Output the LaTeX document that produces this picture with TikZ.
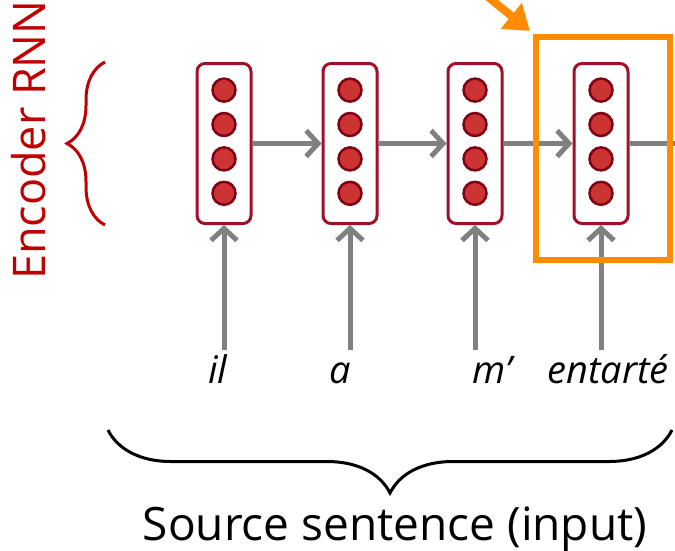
\documentclass[tikz,border=0pt]{standalone}
\usepackage{fontspec}
\setmainfont{Open Sans}
\usetikzlibrary{arrows.meta,decorations.pathreplacing}
\definecolor{cellred}{RGB}{160,16,40}
\definecolor{dotred}{RGB}{204,51,51}
\definecolor{dotrim}{RGB}{128,0,20}
\definecolor{linkgray}{RGB}{128,128,128}
\definecolor{focusorange}{RGB}{255,140,0}
\definecolor{labelred}{RGB}{192,0,0}
\tikzset{
  cell/.style={draw=cellred, line width=3pt, rounded corners=8pt, minimum width=54pt, minimum height=160pt, inner sep=0pt,
    path picture={
      \filldraw[shift={(path picture bounding box.center)}, fill=dotred, draw=dotrim, line width=2.5pt] (0,53.4) circle[radius=11.5pt];
      \filldraw[shift={(path picture bounding box.center)}, fill=dotred, draw=dotrim, line width=2.5pt] (0,19) circle[radius=11.5pt];
      \filldraw[shift={(path picture bounding box.center)}, fill=dotred, draw=dotrim, line width=2.5pt] (0,-15.4) circle[radius=11.5pt];
      \filldraw[shift={(path picture bounding box.center)}, fill=dotred, draw=dotrim, line width=2.5pt] (0,-49.8) circle[radius=11.5pt];
    }},
  link/.style={draw=linkgray, line width=5pt, -{Straight Barb[length=12pt,width=26pt]}},
  word/.style={anchor=base, font=\fontsize{38pt}{42pt}\selectfont\itshape},
}
\begin{document}
\begin{tikzpicture}[x=1pt,y=1pt]
\useasboundingbox (0,0) rectangle (675,-550);
\node[cell] (c1) at (224,-143.5) {};
\node[cell] (c2) at (350,-143.5) {};
\node[cell] (c3) at (475,-143.5) {};
\node[cell] (c4) at (601,-143.5) {};
\coordinate (out) at (680,-143.5);
\draw[link] (c1) -- (c2);
\draw[link] (c2) -- (c3);
\draw[link] (c3) -- (c4);
\draw[link, -] (c4) -- (out);
\node[word] (w1) at (218,-383) {il};
\node[word] (w2) at (340,-383) {a};
\node[word] (w3) at (492,-383) {m’};
\node[word] (w4) at (608,-383) {entarté};
\coordinate (in1) at (224,-350);
\coordinate (in2) at (350,-350);
\coordinate (in3) at (475,-350);
\coordinate (in4) at (601,-350);
\draw[link] (in1) -- (c1);
\draw[link] (in2) -- (c2);
\draw[link] (in3) -- (c3);
\draw[link] (in4) -- (c4);
% orange highlight on the last step
\node[draw=focusorange, line width=6pt, minimum width=134pt, minimum height=223.5pt, inner sep=0pt] (focus) at (603,-148.25) {};
\coordinate (hint) at (477,12);
\draw[draw=focusorange, fill=focusorange, line width=8pt, -{Triangle[length=24pt,width=32pt]}, shorten >=4pt] (hint) -- (focus.north west);
% braces and labels
\draw[labelred, line width=3pt, decorate, decoration={brace, amplitude=38pt}] (105,-225) -- (105,-62);
\node[labelred, rotate=90, anchor=base, font=\fontsize{45pt}{48pt}\selectfont] (enc) at (45,-140) {Encoder RNN};
\draw[black, line width=3pt, decorate, decoration={brace, amplitude=63pt}] (672,-430) -- (108,-430);
\node[anchor=base, font=\fontsize{46pt}{50pt}\selectfont] (src) at (395,-540) {Source sentence (input)};
\end{tikzpicture}
\end{document}
